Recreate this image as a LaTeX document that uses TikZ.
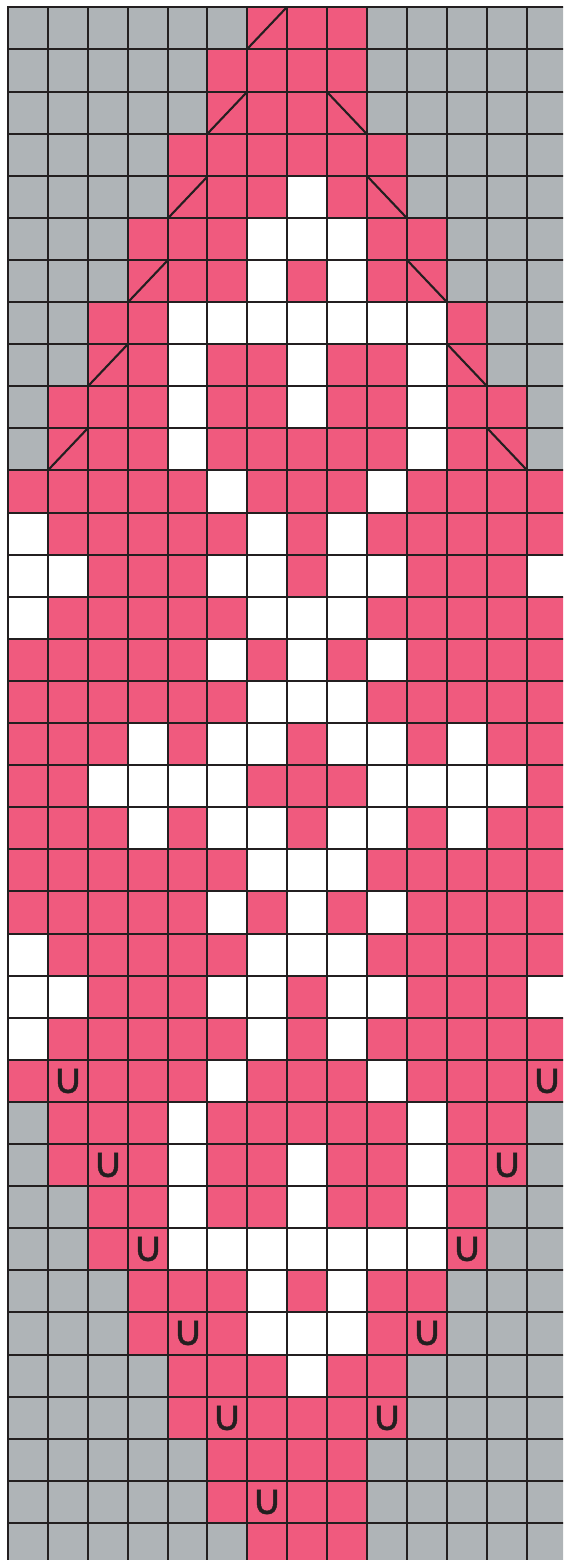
\documentclass[tikz,border=0pt]{standalone}
\usepackage{fontspec}
\newfontfamily\symfont[FakeBold=1]{DejaVu Sans}
\definecolor{cgray}{RGB}{175,180,183}
\definecolor{cpink}{RGB}{240,90,126}
\definecolor{lc}{RGB}{35,31,32}
\def\symg{}\def\symp{}\def\symw{}\def\symL{}\def\symR{}\def\symu{∪}
\tikzset{
  cell/.style={draw=none, minimum width=40pt, minimum height=42.2pt,
    inner sep=0pt, outer sep=0pt, anchor=north west},
  cellg/.style={cell, fill=cgray},
  cellp/.style={cell, fill=cpink},
  cellw/.style={cell, fill=white},
  cellL/.style={cellp, path picture={\draw[gridline]
     (path picture bounding box.south west) -- (path picture bounding box.north east);}},
  cellR/.style={cellp, path picture={\draw[gridline]
     (path picture bounding box.north west) -- (path picture bounding box.south east);}},
  cellu/.style={cellp, text=lc, font=\symfont\fontsize{42}{42}\selectfont},
  gridline/.style={draw=lc, line width=2.1pt, line cap=rect},
}
\begin{document}
\begin{tikzpicture}[x=1pt, y=-1pt]
\useasboundingbox (0,0) rectangle (563,1560);
\clip (0,0) rectangle (563,1560);
\fill[white] (0,0) rectangle (563,1560);
\foreach \row [count=\r from 0] in {
 {g,g,g,g,g,g,L,p,p,g,g,g,g,g,g},
 {g,g,g,g,g,p,p,p,p,g,g,g,g,g,g},
 {g,g,g,g,g,L,p,p,R,g,g,g,g,g,g},
 {g,g,g,g,p,p,p,p,p,p,g,g,g,g,g},
 {g,g,g,g,L,p,p,w,p,R,g,g,g,g,g},
 {g,g,g,p,p,p,w,w,w,p,p,g,g,g,g},
 {g,g,g,L,p,p,w,p,w,p,R,g,g,g,g},
 {g,g,p,p,w,w,w,w,w,w,w,p,g,g,g},
 {g,g,L,p,w,p,p,w,p,p,w,R,g,g,g},
 {g,p,p,p,w,p,p,w,p,p,w,p,p,g,g},
 {g,L,p,p,w,p,p,p,p,p,w,p,R,g,g},
 {p,p,p,p,p,w,p,p,p,w,p,p,p,p,p},
 {w,p,p,p,p,p,w,p,w,p,p,p,p,p,w},
 {w,w,p,p,p,w,w,p,w,w,p,p,p,w,w},
 {w,p,p,p,p,p,w,w,w,p,p,p,p,p,w},
 {p,p,p,p,p,w,p,w,p,w,p,p,p,p,p},
 {p,p,p,p,p,p,w,w,w,p,p,p,p,p,p},
 {p,p,p,w,p,w,w,p,w,w,p,w,p,p,p},
 {p,p,w,w,w,w,p,p,p,w,w,w,w,p,p},
 {p,p,p,w,p,w,w,p,w,w,p,w,p,p,p},
 {p,p,p,p,p,p,w,w,w,p,p,p,p,p,p},
 {p,p,p,p,p,w,p,w,p,w,p,p,p,p,p},
 {w,p,p,p,p,p,w,w,w,p,p,p,p,p,w},
 {w,w,p,p,p,w,w,p,w,w,p,p,p,w,w},
 {w,p,p,p,p,p,w,p,w,p,p,p,p,p,w},
 {p,u,p,p,p,w,p,p,p,w,p,p,p,u,p},
 {g,p,p,p,w,p,p,p,p,p,w,p,p,g,g},
 {g,p,u,p,w,p,p,w,p,p,w,p,u,g,g},
 {g,g,p,p,w,p,p,w,p,p,w,p,g,g,g},
 {g,g,p,u,w,w,w,w,w,w,w,u,g,g,g},
 {g,g,g,p,p,p,w,p,w,p,p,g,g,g,g},
 {g,g,g,p,u,p,w,w,w,p,u,g,g,g,g},
 {g,g,g,g,p,p,p,w,p,p,g,g,g,g,g},
 {g,g,g,g,p,u,p,p,p,u,g,g,g,g,g},
 {g,g,g,g,g,p,p,p,p,g,g,g,g,g,g},
 {g,g,g,g,g,p,u,p,p,g,g,g,g,g,g},
 {g,g,g,g,g,g,p,p,p,g,g,g,g,g,g}}
{
  \foreach \c [count=\i] in \row {
    \node[cell\c] (c-\r-\i) at ({round(8+(\i-1)*39.9)}, {round(7.3+\r*42.1)}) {\csname sym\c\endcsname};
  }
}
% grid lines on top
\foreach \k in {0,...,14}
  \draw[gridline] ({round(8+\k*39.9)}, 7) -- ({round(8+\k*39.9)}, 1570);
\foreach \k in {0,...,37}
  \draw[gridline] (8, {round(7.3+\k*42.1)}) -- (570, {round(7.3+\k*42.1)});
\end{tikzpicture}
\end{document}
